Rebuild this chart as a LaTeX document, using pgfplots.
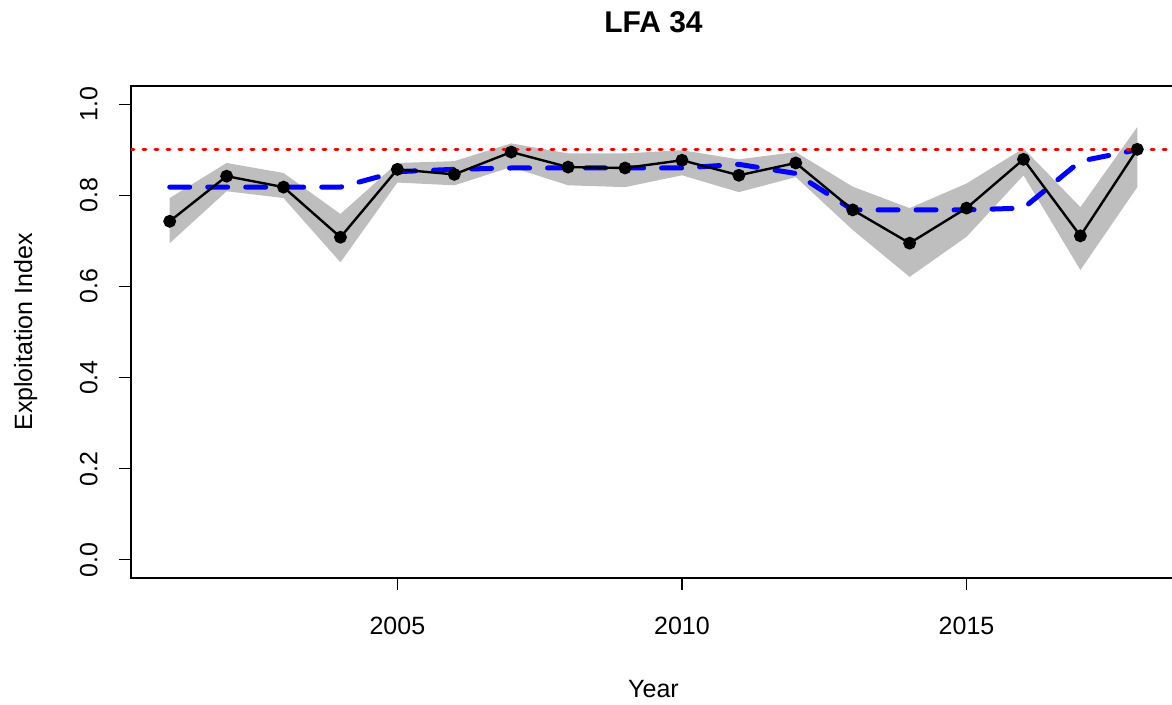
\documentclass[border=0pt]{standalone}
\usepackage{fontspec}
\setmainfont{Liberation Sans}
\usepackage{pgfplots}
\usepackage{pgfplotstable}
\pgfplotsset{compat=1.18}
\definecolor{bandgray}{RGB}{190,190,190}

% year, estimate, lower and upper bound of the band, smoothed (blue) line
\pgfplotstableread{
year  mid    lo     hi     smooth
2001  0.743  0.695  0.794  0.818
2002  0.842  0.809  0.871  0.818
2003  0.818  0.794  0.849  0.818
2004  0.708  0.653  0.759  0.818
2005  0.857  0.828  0.871  0.852
2006  0.846  0.822  0.875  0.857
2007  0.895  0.862  0.914  0.860
2008  0.862  0.822  0.892  0.860
2009  0.860  0.818  0.892  0.860
2010  0.877  0.844  0.899  0.860
2011  0.844  0.807  0.879  0.868
2012  0.871  0.840  0.895  0.848
2013  0.768  0.724  0.819  0.768
2014  0.695  0.621  0.772  0.768
2015  0.772  0.709  0.826  0.768
2016  0.879  0.844  0.903  0.772
2017  0.711  0.636  0.774  0.875
2018  0.901  0.818  0.950  0.900
}\lfa

\begin{document}
\begin{tikzpicture}
\begin{axis}[
    scale only axis,
    width=522.5pt, height=246pt,
    xmin=2000.32, xmax=2018.68,
    ymin=-0.04, ymax=1.04,
    axis line style={line width=0.6pt},
    tick style={black, line width=0.6pt},
    tick align=outside,
    major tick length=6pt,
    xtick={2005,2010,2015},
    ytick={0,0.2,0.4,0.6,0.8,1},
    xtick pos=left, ytick pos=left,
    /pgf/number format/assume math mode=true,
    tick label style={font=\fontsize{12.5}{15}\selectfont},
    xticklabel style={/pgf/number format/1000 sep={}, anchor=north,
        inner xsep=0pt, inner ysep=13.5pt},
    yticklabel style={/pgf/number format/.cd, fixed, fixed zerofill, precision=1,
        /tikz/.cd, rotate=90, anchor=south, inner xsep=0pt, inner ysep=10.5pt},
    title={LFA 34},
    title style={font=\fontsize{15}{18}\selectfont\bfseries,
        at={(axis description cs:0.5,1.085)}, anchor=base},
    xlabel={Year},
    xlabel style={font=\fontsize{12.5}{15}\selectfont,
        at={(axis description cs:0.5,-0.2419)}, anchor=base},
    ylabel={Exploitation Index},
    ylabel style={font=\fontsize{12.5}{15}\selectfont,
        at={(axis description cs:-0.0947,0.5)}, anchor=base},
]
\coordinate (bl) at (rel axis cs:0,0);
\coordinate (tr) at (rel axis cs:1,1);

% confidence band: upper bound forward, lower bound backward
\addplot[fill=bandgray, draw=none] coordinates {
 (2001,0.794) (2002,0.871) (2003,0.849) (2004,0.759) (2005,0.871) (2006,0.875)
 (2007,0.914) (2008,0.892) (2009,0.892) (2010,0.899) (2011,0.879) (2012,0.895)
 (2013,0.819) (2014,0.772) (2015,0.826) (2016,0.903) (2017,0.774) (2018,0.950)
 (2018,0.818) (2017,0.636) (2016,0.844) (2015,0.709) (2014,0.621) (2013,0.724)
 (2012,0.840) (2011,0.807) (2010,0.844) (2009,0.818) (2008,0.822) (2007,0.862)
 (2006,0.822) (2005,0.828) (2004,0.653) (2003,0.794) (2002,0.809) (2001,0.695)
} -- cycle;

\addplot[blue, line width=2.5pt, dash pattern=on 10pt off 9pt, line cap=round,
    line join=round] table[x=year, y=smooth] {\lfa};

\addplot[black, line width=1.2pt, mark=*, mark size=2.6pt,
    mark options={solid}] table[x=year, y=mid] {\lfa};

\addplot[red, line width=1.5pt, dash pattern=on 1.5pt off 4.5pt, line cap=round]
    coordinates {(2000.32,0.9) (2018.68,0.9)};
\end{axis}
\pgfresetboundingbox
\path ([shift={(-65.5pt,-63.5pt)}]bl) rectangle ([shift={(-2pt,43pt)}]tr);
\end{tikzpicture}
\end{document}
